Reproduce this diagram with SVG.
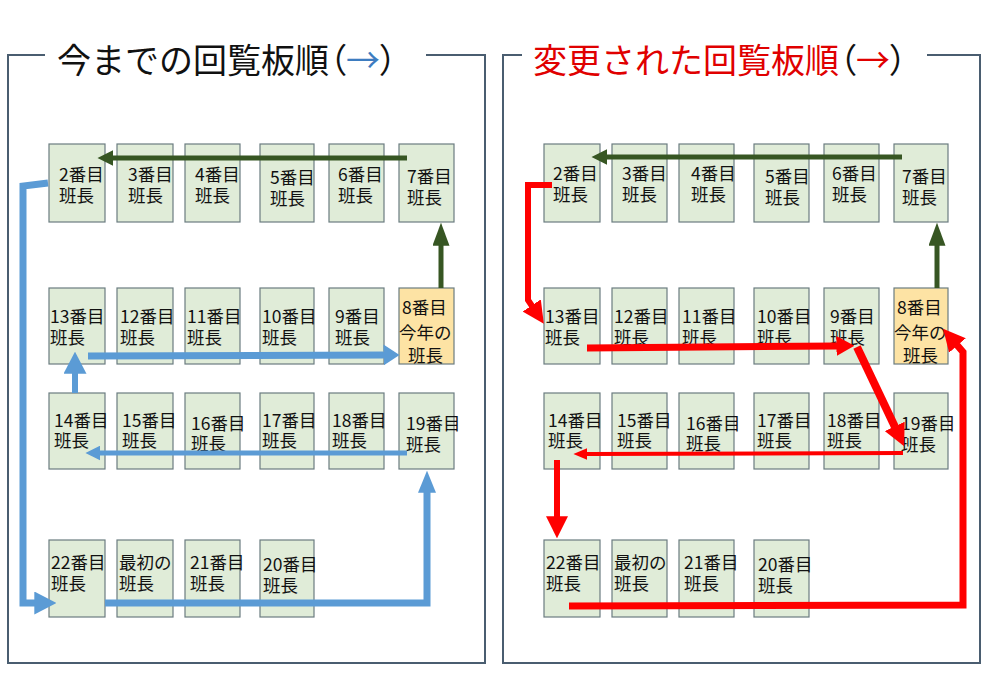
<svg xmlns="http://www.w3.org/2000/svg" width="999" height="692" viewBox="0 0 999 692">
<style>
.bg{fill:#ffffff}
.frame{fill:none;stroke:#4a5d70;stroke-width:2}
.box{fill:#e0ecd8;stroke:#6b7c80;stroke-width:1.2}
.box.hl{fill:#fde3a4}
.t{font-family:"Noto Sans CJK JP","Noto Sans",sans-serif;font-size:17.5px;fill:#111}
.title{font-family:"Noto Sans CJK JP","Noto Sans",sans-serif;font-size:34px;fill:#111}
.palt{font-feature-settings:"palt" 1}
.blue{fill:none;stroke:#5b9bd5;stroke-linejoin:miter}
.red{fill:none;stroke:#ff0000;stroke-linejoin:miter}
.green{fill:none;stroke:#375623}
</style>
<defs>
<marker id="bA" viewBox="0 0 10 10" refX="0.3" refY="5" markerUnits="userSpaceOnUse" markerWidth="22" markerHeight="23" orient="auto" preserveAspectRatio="none"><path d="M0,0 L10,5 L0,10 z" fill="#5b9bd5"/></marker>
<marker id="bB" viewBox="0 0 10 10" refX="0.3" refY="5" markerUnits="userSpaceOnUse" markerWidth="22" markerHeight="18" orient="auto" preserveAspectRatio="none"><path d="M0,0 L10,5 L0,10 z" fill="#5b9bd5"/></marker>
<marker id="bC" viewBox="0 0 10 10" refX="0.3" refY="5" markerUnits="userSpaceOnUse" markerWidth="15" markerHeight="15" orient="auto" preserveAspectRatio="none"><path d="M0,0 L10,5 L0,10 z" fill="#5b9bd5"/></marker>
<marker id="bD" viewBox="0 0 10 10" refX="0.3" refY="5" markerUnits="userSpaceOnUse" markerWidth="16" markerHeight="21" orient="auto" preserveAspectRatio="none"><path d="M0,0 L10,5 L0,10 z" fill="#5b9bd5"/></marker>
<marker id="rA" viewBox="0 0 10 10" refX="0.3" refY="5" markerUnits="userSpaceOnUse" markerWidth="22" markerHeight="22" orient="auto" preserveAspectRatio="none"><path d="M0,0 L10,5 L0,10 z" fill="#ff0000"/></marker>
<marker id="rB" viewBox="0 0 10 10" refX="0.3" refY="5" markerUnits="userSpaceOnUse" markerWidth="18" markerHeight="20" orient="auto" preserveAspectRatio="none"><path d="M0,0 L10,5 L0,10 z" fill="#ff0000"/></marker>
<marker id="rC" viewBox="0 0 10 10" refX="0.3" refY="5" markerUnits="userSpaceOnUse" markerWidth="14" markerHeight="12" orient="auto" preserveAspectRatio="none"><path d="M0,0 L10,5 L0,10 z" fill="#ff0000"/></marker>
<marker id="gH" viewBox="0 0 10 10" refX="0.3" refY="5" markerUnits="userSpaceOnUse" markerWidth="16" markerHeight="16" orient="auto" preserveAspectRatio="none"><path d="M0,0 L10,5 L0,10 z" fill="#375623"/></marker>
<marker id="gV" viewBox="0 0 10 10" refX="0.3" refY="5" markerUnits="userSpaceOnUse" markerWidth="23" markerHeight="17" orient="auto" preserveAspectRatio="none"><path d="M0,0 L10,5 L0,10 z" fill="#375623"/></marker>
</defs>
<rect class="bg" x="0" y="0" width="999" height="692"/>

<g id="frame-left">
<path class="frame" d="M45,55 L8,55 L8,663 L485,663 L485,55 L426,55"/>
<text class="title" x="57" y="73">今までの回覧板順<tspan class="palt">（<tspan fill="#3d7cc0">→</tspan>）</tspan></text>
</g>
<g id="frame-right">
<path class="frame" d="M522,55 L503,55 L503,663 L980,663 L980,55 L927,55"/>
<text class="title" x="533" y="73"><tspan fill="#e00000">変更された回覧板順</tspan><tspan class="palt">（<tspan fill="#e00000">→</tspan>）</tspan></text>
</g>

<!-- Left panel nodes -->
<g id="L2"><rect class="box" x="49" y="144" width="56" height="78"/><text class="t"><tspan x="59" y="181">2番目</tspan><tspan x="59" y="202">班長</tspan></text></g>
<g id="L3"><rect class="box" x="117" y="144" width="56" height="78"/><text class="t"><tspan x="128" y="181">3番目</tspan><tspan x="128" y="202">班長</tspan></text></g>
<g id="L4"><rect class="box" x="185" y="144" width="55" height="78"/><text class="t"><tspan x="195" y="181">4番目</tspan><tspan x="195" y="202">班長</tspan></text></g>
<g id="L5"><rect class="box" x="260" y="144" width="54" height="78"/><text class="t"><tspan x="270" y="184">5番目</tspan><tspan x="270" y="205">班長</tspan></text></g>
<g id="L6"><rect class="box" x="329" y="144" width="55" height="78"/><text class="t"><tspan x="338" y="181">6番目</tspan><tspan x="338" y="202">班長</tspan></text></g>
<g id="L7"><rect class="box" x="399" y="144" width="55" height="78"/><text class="t"><tspan x="407" y="183">7番目</tspan><tspan x="407" y="204">班長</tspan></text></g>

<g id="L13"><rect class="box" x="49" y="288" width="56" height="76"/><text class="t"><tspan x="50" y="323">13番目</tspan><tspan x="50" y="344">班長</tspan></text></g>
<g id="L12"><rect class="box" x="117" y="288" width="56" height="76"/><text class="t"><tspan x="120" y="323">12番目</tspan><tspan x="120" y="344">班長</tspan></text></g>
<g id="L11"><rect class="box" x="185" y="288" width="55" height="76"/><text class="t"><tspan x="187" y="323">11番目</tspan><tspan x="187" y="344">班長</tspan></text></g>
<g id="L10"><rect class="box" x="260" y="288" width="54" height="76"/><text class="t"><tspan x="262" y="323">10番目</tspan><tspan x="262" y="344">班長</tspan></text></g>
<g id="L9"><rect class="box" x="329" y="288" width="55" height="76"/><text class="t"><tspan x="335" y="323">9番目</tspan><tspan x="335" y="344">班長</tspan></text></g>
<g id="L8"><rect class="box hl" x="399" y="288" width="55" height="76"/><text class="t"><tspan x="402" y="314">8番目</tspan><tspan x="399" y="339">今年の</tspan><tspan x="408" y="362">班長</tspan></text></g>

<g id="L14"><rect class="box" x="49" y="393" width="56" height="76"/><text class="t"><tspan x="54" y="427">14番目</tspan><tspan x="54" y="447">班長</tspan></text></g>
<g id="L15"><rect class="box" x="117" y="393" width="56" height="76"/><text class="t"><tspan x="122" y="427">15番目</tspan><tspan x="122" y="447">班長</tspan></text></g>
<g id="L16"><rect class="box" x="185" y="393" width="55" height="76"/><text class="t"><tspan x="191" y="430">16番目</tspan><tspan x="191" y="450">班長</tspan></text></g>
<g id="L17"><rect class="box" x="260" y="393" width="54" height="76"/><text class="t"><tspan x="262" y="427">17番目</tspan><tspan x="262" y="447">班長</tspan></text></g>
<g id="L18"><rect class="box" x="329" y="393" width="55" height="76"/><text class="t"><tspan x="332" y="427">18番目</tspan><tspan x="332" y="447">班長</tspan></text></g>
<g id="L19"><rect class="box" x="399" y="393" width="55" height="76"/><text class="t"><tspan x="406" y="430">19番目</tspan><tspan x="406" y="451">班長</tspan></text></g>

<g id="L22"><rect class="box" x="49" y="540" width="56" height="77"/><text class="t"><tspan x="51" y="569">22番目</tspan><tspan x="51" y="590">班長</tspan></text></g>
<g id="L1"><rect class="box" x="117" y="540" width="56" height="77"/><text class="t"><tspan x="119" y="569">最初の</tspan><tspan x="119" y="590">班長</tspan></text></g>
<g id="L21"><rect class="box" x="185" y="540" width="55" height="77"/><text class="t"><tspan x="190" y="569">21番目</tspan><tspan x="190" y="590">班長</tspan></text></g>
<g id="L20"><rect class="box" x="260" y="540" width="54" height="77"/><text class="t"><tspan x="263" y="571">20番目</tspan><tspan x="263" y="592">班長</tspan></text></g>

<!-- Right panel nodes -->
<g id="R2"><rect class="box" x="544" y="144" width="56" height="78"/><text class="t"><tspan x="553" y="180">2番目</tspan><tspan x="553" y="201">班長</tspan></text></g>
<g id="R3"><rect class="box" x="612" y="144" width="55" height="78"/><text class="t"><tspan x="622" y="180">3番目</tspan><tspan x="622" y="201">班長</tspan></text></g>
<g id="R4"><rect class="box" x="679" y="144" width="55" height="78"/><text class="t"><tspan x="691" y="180">4番目</tspan><tspan x="691" y="201">班長</tspan></text></g>
<g id="R5"><rect class="box" x="754" y="144" width="55" height="78"/><text class="t"><tspan x="765" y="183">5番目</tspan><tspan x="765" y="204">班長</tspan></text></g>
<g id="R6"><rect class="box" x="824" y="144" width="55" height="78"/><text class="t"><tspan x="832" y="180">6番目</tspan><tspan x="832" y="201">班長</tspan></text></g>
<g id="R7"><rect class="box" x="894" y="144" width="54" height="78"/><text class="t"><tspan x="902" y="183">7番目</tspan><tspan x="902" y="204">班長</tspan></text></g>

<g id="R13"><rect class="box" x="544" y="288" width="56" height="76"/><text class="t"><tspan x="545" y="323">13番目</tspan><tspan x="545" y="344">班長</tspan></text></g>
<g id="R12"><rect class="box" x="612" y="288" width="55" height="76"/><text class="t"><tspan x="614" y="323">12番目</tspan><tspan x="614" y="344">班長</tspan></text></g>
<g id="R11"><rect class="box" x="679" y="288" width="55" height="76"/><text class="t"><tspan x="682" y="323">11番目</tspan><tspan x="682" y="344">班長</tspan></text></g>
<g id="R10"><rect class="box" x="754" y="288" width="55" height="76"/><text class="t"><tspan x="757" y="323">10番目</tspan><tspan x="757" y="344">班長</tspan></text></g>
<g id="R9"><rect class="box" x="824" y="288" width="55" height="76"/><text class="t"><tspan x="830" y="323">9番目</tspan><tspan x="830" y="344">班長</tspan></text></g>
<g id="R8"><rect class="box hl" x="894" y="288" width="54" height="76"/><text class="t"><tspan x="897" y="314">8番目</tspan><tspan x="894" y="339">今年の</tspan><tspan x="903" y="362">班長</tspan></text></g>

<g id="R14"><rect class="box" x="544" y="393" width="56" height="76"/><text class="t"><tspan x="548" y="427">14番目</tspan><tspan x="548" y="447">班長</tspan></text></g>
<g id="R15"><rect class="box" x="612" y="393" width="55" height="76"/><text class="t"><tspan x="617" y="427">15番目</tspan><tspan x="617" y="447">班長</tspan></text></g>
<g id="R16"><rect class="box" x="679" y="393" width="55" height="76"/><text class="t"><tspan x="686" y="430">16番目</tspan><tspan x="686" y="450">班長</tspan></text></g>
<g id="R17"><rect class="box" x="754" y="393" width="55" height="76"/><text class="t"><tspan x="757" y="427">17番目</tspan><tspan x="757" y="447">班長</tspan></text></g>
<g id="R18"><rect class="box" x="824" y="393" width="55" height="76"/><text class="t"><tspan x="827" y="427">18番目</tspan><tspan x="827" y="447">班長</tspan></text></g>
<g id="R19"><rect class="box" x="894" y="393" width="54" height="76"/><text class="t"><tspan x="901" y="430">19番目</tspan><tspan x="901" y="451">班長</tspan></text></g>

<g id="R22"><rect class="box" x="544" y="540" width="56" height="77"/><text class="t"><tspan x="546" y="569">22番目</tspan><tspan x="546" y="590">班長</tspan></text></g>
<g id="R1"><rect class="box" x="612" y="540" width="55" height="77"/><text class="t"><tspan x="614" y="569">最初の</tspan><tspan x="614" y="590">班長</tspan></text></g>
<g id="R21"><rect class="box" x="679" y="540" width="55" height="77"/><text class="t"><tspan x="684" y="569">21番目</tspan><tspan x="684" y="590">班長</tspan></text></g>
<g id="R20"><rect class="box" x="754" y="540" width="55" height="77"/><text class="t"><tspan x="758" y="571">20番目</tspan><tspan x="758" y="592">班長</tspan></text></g>

<g id="connectors">
<!-- left: green -->
<path class="green" stroke-width="5" d="M407,158 L113,158" marker-end="url(#gH)"/>
<path class="green" stroke-width="5" d="M441,288 L441,245" marker-end="url(#gV)"/>
<!-- left: blue -->
<path class="blue" stroke-width="7" d="M48,183 L23,186 L23,603 L35,603" marker-end="url(#bA)"/>
<path class="blue" stroke-width="7" d="M105,603 L427,603 L427,492" marker-end="url(#bB)"/>
<path class="blue" stroke-width="5" d="M407,453 L100,453" marker-end="url(#bC)"/>
<path class="blue" stroke-width="6" d="M75,393 L75,373" marker-end="url(#bA)"/>
<path class="blue" stroke-width="7" d="M88,356 L384,355" marker-end="url(#bD)"/>
<!-- right: green -->
<path class="green" stroke-width="5" d="M902,157 L607,157" marker-end="url(#gH)"/>
<path class="green" stroke-width="5" d="M937,288 L937,245" marker-end="url(#gV)"/>
<!-- right: red -->
<path class="red" stroke-width="6" d="M552,185 L528,185 L528,300 L532,306" marker-end="url(#rA)"/>
<path class="red" stroke-width="7" d="M587,348 L837,346" marker-end="url(#rB)"/>
<path class="red" stroke-width="8" d="M857,347 L895,427" marker-end="url(#rA)"/>
<path class="red" stroke-width="4" d="M903,453 L587,454" marker-end="url(#rC)"/>
<path class="red" stroke-width="6" d="M557,460 L557,517" marker-end="url(#rA)"/>
<path class="red" stroke-width="7" d="M569,606 L963,605 L963,352 L957,345" marker-end="url(#rA)"/>
</g>
</svg>
